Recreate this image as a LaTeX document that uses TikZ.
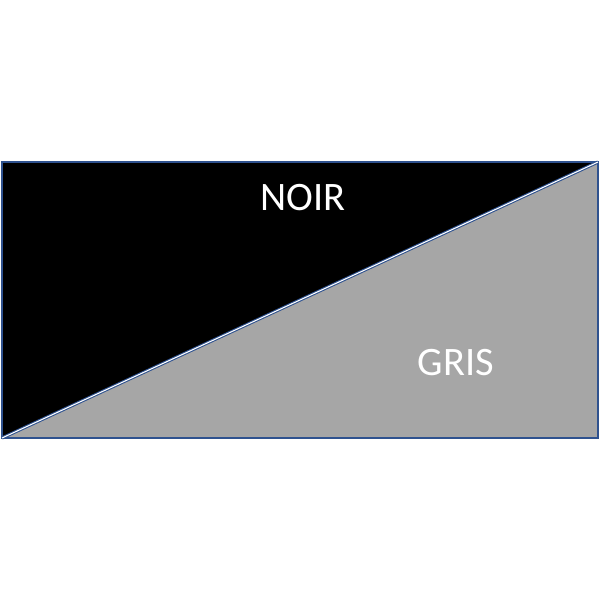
\documentclass[tikz,border=0pt]{standalone}
\usepackage{fontspec}
\setmainfont{Carlito}
\definecolor{edgeblue}{HTML}{2F528F}
\definecolor{grisfill}{HTML}{A6A6A6}
\begin{document}
\begin{tikzpicture}[x=0.02cm,y=-0.02cm,
    lab/.style={text=white,font=\fontsize{23}{26}\selectfont}]
    \useasboundingbox (0,0) rectangle (600,600);
    \coordinate(tl)at(2,162);
    \coordinate(tr)at(598,162);
    \coordinate(br)at(598,438);
    \coordinate(bl)at(2,438);
    \fill[black](tl)--(tr)--(bl)--cycle;
    \fill[grisfill](tr)--(br)--(bl)--cycle;
    \draw[edgeblue,line width=1.2pt](tl)rectangle(br);
    \draw[edgeblue,double=white,double distance=0.6pt,line width=0.6pt](bl)--(tr);
    \node(noir)at(303,198)[lab]{NOIR};
    \node(gris)at(456,363)[lab]{GRIS};
\end{tikzpicture}
\end{document}
